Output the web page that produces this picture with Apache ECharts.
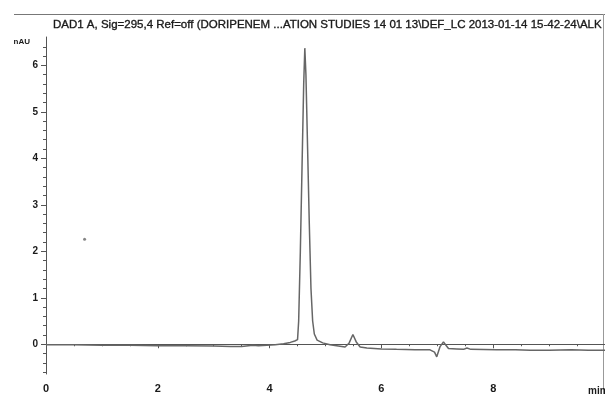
<!DOCTYPE html>
<html>
<head>
<meta charset="utf-8">
<script src="https://cdn.jsdelivr.net/npm/echarts@6/dist/echarts.min.js"></script>
<style>
  html, body { margin: 0; padding: 0; background: #fff; }
  #chart { width: 605px; height: 394px; }
</style>
</head>
<body>
<div id="chart"></div>
<script>
// Chromatogram trace: retention time (min) and detector signal (mAU)
const timeMin = [
  0.00, 0.50, 1.00, 1.50, 2.00, 2.50, 3.00, 3.30, 3.50, 3.62, 3.70, 3.80, 3.95, 4.10, 4.25,
  4.37, 4.45, 4.50, 4.52, 4.55, 4.58, 4.61, 4.63, 4.65, 4.68, 4.71, 4.74, 4.77, 4.80, 4.85,
  4.95, 5.08, 5.20, 5.35, 5.42, 5.49, 5.55, 5.62, 5.74, 6.00, 6.27, 6.60, 6.87, 6.95, 6.99,
  7.05, 7.11, 7.20, 7.35, 7.47, 7.53, 7.60, 8.06, 8.40, 8.66, 9.00, 9.40, 9.70, 10.00
];
const signal = [
  -0.01, -0.01, -0.02, -0.02, -0.03, -0.03, -0.04, -0.05, -0.05, -0.03, -0.02, -0.03, -0.02, -0.01, 0.01,
  0.04, 0.07, 0.10, 0.50, 2.00, 3.80, 5.60, 6.37, 5.80, 4.20, 2.60, 1.20, 0.50, 0.22, 0.09,
  0.03, -0.01, -0.03, -0.06, 0.02, 0.21, 0.05, -0.06, -0.08, -0.10, -0.11, -0.12, -0.12, -0.17, -0.27,
  -0.05, 0.05, -0.09, -0.10, -0.11, -0.08, -0.11, -0.12, -0.12, -0.13, -0.13, -0.12, -0.13, -0.13
];
// Stray speck on the trace paper
const speck = [[0.69, 2.26]];

const yMajorTicks = [0, 1, 2, 3, 4, 5, 6];
const yMinorTicks = [-0.6, -0.4, -0.2, 0.2, 0.4, 0.6, 0.8, 1.2, 1.4, 1.6, 1.8, 2.2, 2.4, 2.6, 2.8,
  3.2, 3.4, 3.6, 3.8, 4.2, 4.4, 4.6, 4.8, 5.2, 5.4, 5.6, 5.8, 6.2, 6.4];
const xMajorTicks = [0, 2, 4, 6, 8];
const xMinorTicks = [0.5, 1, 1.5, 2.5, 3, 3.5, 4.5, 5, 5.5, 6.5, 7, 7.5, 8.5, 9, 9.5];

const titleText = 'DAD1 A, Sig=295,4 Ref=off (DORIPENEM ...ATION STUDIES 14 01 13\\DEF_LC 2013-01-14 15-42-24\\ALK';
const yUnit = 'nAU';
const xUnit = 'min';

const FONT = 'Liberation Sans';
const INK = '#1a1a1a';
const AXIS = '#555';

const chart = echarts.init(document.getElementById('chart'), null, { renderer: 'canvas' });

const yMin = -0.64, yMax = 6.61;
const xMin = 0, xMax = 10;

const traceData = timeMin.map((t, i) => [t, signal[i]]);

chart.setOption({
  animation: false,
  backgroundColor: '#fff',
  title: {
    text: titleText,
    left: 48, top: 14,
    textStyle: {
      fontFamily: FONT, fontSize: 11.5, fontWeight: 'normal', color: INK,
      textBorderColor: INK, textBorderWidth: 0.35
    }
  },
  graphic: [
    { type: 'line', shape: { x1: 14, y1: 14.5, x2: 605, y2: 14.5 }, style: { stroke: '#777', lineWidth: 1.2 } },
    { type: 'line', shape: { x1: 603.5, y1: 14, x2: 603.5, y2: 394 }, style: { stroke: '#999', lineWidth: 1 } },
    {
      type: 'text', left: 588, top: 386,
      style: { text: xUnit, fontFamily: FONT, fontSize: 10, fontWeight: 'bold', fill: INK }
    }
  ],
  grid: { left: 46, right: 0, top: 37, bottom: 15, containLabel: false },
  xAxis: [
    {
      type: 'value', min: xMin, max: xMax,
      axisLine: { lineStyle: { color: AXIS, width: 1 } },
      axisTick: { length: 4, lineStyle: { color: AXIS }, customValues: xMajorTicks },
      axisLabel: { customValues: xMajorTicks, margin: 9, fontFamily: FONT, fontSize: 11, fontWeight: 'bold', color: INK },
      splitLine: { show: false }
    },
    {
      type: 'value', min: xMin, max: xMax, position: 'bottom',
      axisLine: { show: false },
      axisTick: { length: 2, lineStyle: { color: AXIS }, customValues: xMinorTicks },
      axisLabel: { show: false },
      splitLine: { show: false }
    }
  ],
  yAxis: [
    {
      type: 'value', min: yMin, max: yMax,
      name: yUnit, nameLocation: 'end', nameGap: -9,
      nameTextStyle: { fontFamily: FONT, fontSize: 8, fontWeight: 'bold', color: INK, align: 'right', padding: [0, 16, 0, 0] },
      axisLine: { show: true, lineStyle: { color: AXIS, width: 1 } },
      axisTick: { show: true, length: 5, lineStyle: { color: AXIS }, customValues: yMajorTicks },
      axisLabel: { customValues: yMajorTicks, margin: 8, fontFamily: FONT, fontSize: 10, fontWeight: 'bold', color: INK },
      splitLine: { show: false }
    },
    {
      type: 'value', min: yMin, max: yMax, position: 'left',
      axisLine: { show: false },
      axisTick: { show: true, length: 3, lineStyle: { color: AXIS }, customValues: yMinorTicks },
      axisLabel: { show: false },
      splitLine: { show: false }
    }
  ],
  series: [
    {
      type: 'line', xAxisIndex: 0, yAxisIndex: 0,
      data: traceData,
      showSymbol: false, smooth: false,
      lineStyle: { color: '#666', width: 1.5 },
      z: 3
    },
    {
      type: 'scatter', xAxisIndex: 0, yAxisIndex: 0,
      data: speck, symbolSize: 3,
      itemStyle: { color: '#666' }
    }
  ]
});
</script>
</body>
</html>
